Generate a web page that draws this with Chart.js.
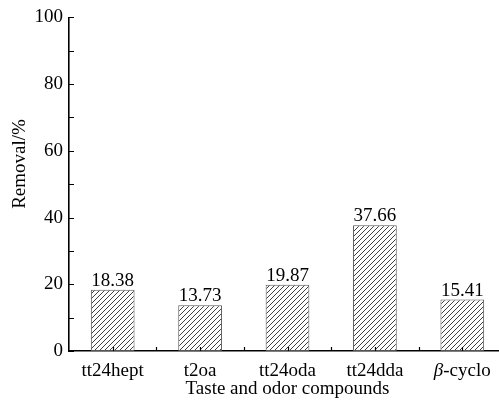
<!DOCTYPE html>
<html>
<head>
<meta charset="utf-8">
<script src="https://cdn.jsdelivr.net/npm/chart.js@4.4.1/dist/chart.umd.min.js"></script>
<style>
  html, body { margin: 0; padding: 0; background: #fff; overflow: hidden; }
  #wrap { width: 506px; height: 402px; }
</style>
</head>
<body>
<div id="wrap"><canvas id="c" width="506" height="402"></canvas></div>
<script>
// Removal of taste and odor compounds
const categories = ['tt24hept', 't2oa', 'tt24oda', 'tt24dda', 'β-cyclo'];
const removal = [18.38, 13.73, 19.87, 37.66, 15.41];
const yTicks = [0, 20, 40, 60, 80, 100];
const yMinorTicks = [10, 30, 50, 70, 90];

const FONT = '"Liberation Serif", "Times New Roman", serif';
const SIZE = 19;

// Diagonal hatch fill for the bars
function makeHatch() {
  const s = 5;
  const p = document.createElement('canvas');
  p.width = s; p.height = s;
  const g = p.getContext('2d');
  g.fillStyle = '#ffffff';
  g.fillRect(0, 0, s, s);
  g.strokeStyle = '#404040';
  g.lineWidth = 1;
  g.beginPath();
  g.moveTo(-1, s + 1); g.lineTo(s + 1, -1);
  g.moveTo(-1, 1); g.lineTo(1, -1);
  g.moveTo(s - 1, s + 1); g.lineTo(s + 1, s - 1);
  g.stroke();
  return g.createPattern(p, 'repeat');
}

// Draws a label whose leading Greek letter is set in italics
function drawCategory(ctx, text, cx, baseline) {
  const m = /^([\u0370-\u03ff])(.*)$/.exec(text);
  if (!m) { ctx.textAlign = 'center'; ctx.fillText(text, cx, baseline); return; }
  const it = 'italic ' + SIZE + 'px ' + FONT, up = SIZE + 'px ' + FONT;
  ctx.font = it; const w1 = ctx.measureText(m[1]).width;
  ctx.font = up; const w2 = ctx.measureText(m[2]).width;
  let x0 = cx - (w1 + w2) / 2;
  ctx.textAlign = 'left';
  ctx.font = it; ctx.fillText(m[1], x0, baseline);
  ctx.font = up; ctx.fillText(m[2], x0 + w1, baseline);
}

// Inner tick marks, labels and axis titles
const decorations = {
  id: 'decorations',
  afterDraw(chart) {
    const ctx = chart.ctx;
    const x = chart.scales.x, y = chart.scales.y;
    const area = chart.chartArea;
    ctx.save();
    ctx.strokeStyle = '#000';
    ctx.lineWidth = 1.2;
    ctx.beginPath();
    yTicks.concat(yMinorTicks).forEach(v => {
      const py = Math.round(y.getPixelForValue(v)) + 0.5;
      ctx.moveTo(area.left, py); ctx.lineTo(area.left + 5, py);
    });
    for (let i = 0; i < categories.length; i++) {
      const cx = Math.round(x.getPixelForValue(i)) + 0.5;
      ctx.moveTo(cx, area.bottom); ctx.lineTo(cx, area.bottom - 4);
      if (i < categories.length - 1) {
        const bx = Math.round((x.getPixelForValue(i) + x.getPixelForValue(i + 1)) / 2) + 0.5;
        ctx.moveTo(bx, area.bottom); ctx.lineTo(bx, area.bottom - 4);
      }
    }
    ctx.stroke();

    ctx.fillStyle = '#000';
    ctx.font = SIZE + 'px ' + FONT;
    ctx.textAlign = 'center';
    ctx.textBaseline = 'alphabetic';

    // value labels above bars
    chart.getDatasetMeta(0).data.forEach((bar, i) => {
      ctx.fillText(removal[i].toFixed(2), bar.x, bar.y - 4);
    });

    // category labels
    categories.forEach((c, i) => {
      ctx.font = SIZE + 'px ' + FONT;
      drawCategory(ctx, c, x.getPixelForValue(i), 376);
    });

    // x axis title
    ctx.font = SIZE + 'px ' + FONT;
    ctx.textAlign = 'center';
    ctx.fillText('Taste and odor compounds', (area.left + area.right) / 2, 394);

    // y axis title
    ctx.translate(25, 164);
    ctx.rotate(-Math.PI / 2);
    ctx.fillText('Removal/%', 0, 0);
    ctx.restore();
  }
};

new Chart(document.getElementById('c'), {
  type: 'bar',
  data: {
    labels: categories,
    datasets: [{
      data: removal,
      backgroundColor: makeHatch(),
      borderColor: '#555',
      borderWidth: 1,
      borderSkipped: false,
      barPercentage: 0.5,
      categoryPercentage: 1.0
    }]
  },
  options: {
    responsive: false,
    animation: false,
    devicePixelRatio: 1,
    layout: { padding: { top: 16, right: 0, left: 0, bottom: 0 } },
    plugins: { legend: { display: false }, tooltip: { enabled: false } },
    scales: {
      x: {
        grid: { display: false, drawTicks: false },
        border: { color: '#000', width: 1.6 },
        ticks: { display: false },
        afterFit(s) { s.height = 51; }
      },
      y: {
        min: 0, max: 100,
        afterBuildTicks(s) { s.ticks = yTicks.map(v => ({ value: v })); },
        grid: { display: false, drawTicks: false },
        border: { color: '#000', width: 1.6 },
        ticks: { color: '#000', font: { family: FONT, size: SIZE }, padding: 6 },
        afterFit(s) { s.width = 69; }
      }
    }
  },
  plugins: [decorations]
});
</script>
</body>
</html>
